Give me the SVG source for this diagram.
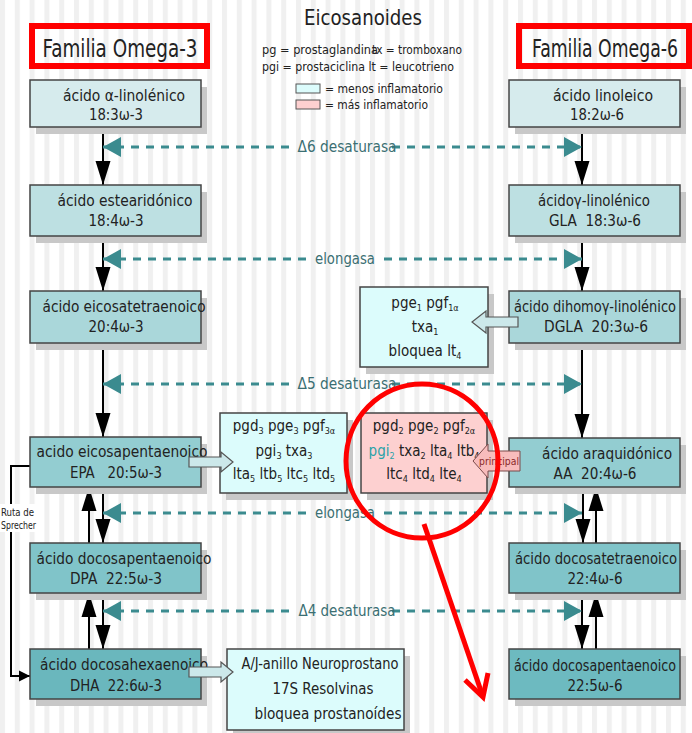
<svg xmlns="http://www.w3.org/2000/svg" width="692" height="733" viewBox="0 0 692 733">
<style>
text{font-family:"DejaVu Sans Condensed","DejaVu Sans","Liberation Sans",sans-serif;font-stretch:condensed;fill:#222}
.n{font-size:16px}
.m{font-size:15px}
.sub{font-size:9px}
.lab{font-size:15px;fill:#3b6f73}
.leg{font-size:12px}
.box{stroke:#444;stroke-width:1.5}
.sh{fill:#c8c8c8}
.cyan{fill:#dcfcfc}
.pink{fill:#fdd0d0}
.blk{stroke:#000;stroke-width:2;fill:none}
.dash{stroke:#3b8b8f;stroke-width:2.8;stroke-dasharray:8 7;fill:none}
.hol{fill:#cce8ea;stroke:#555;stroke-width:1.2}
.red{stroke:#f00;fill:none}
</style>
<defs>
<pattern id="stripes" x="0" y="0" width="14.8" height="20" patternUnits="userSpaceOnUse">
<rect x="0" y="0" width="14.8" height="20" fill="#fff"/>
<rect x="0" y="0" width="5" height="20" fill="#f0f0f0"/>
</pattern>
<marker id="ab" markerUnits="userSpaceOnUse" markerWidth="24" markerHeight="16" refX="24" refY="8" orient="auto">
<path d="M0,0.5 L24,8 L0,15.5 z" fill="#000"/>
</marker>
<marker id="as" markerUnits="userSpaceOnUse" markerWidth="12" markerHeight="12" refX="11" refY="6" orient="auto">
<path d="M0,0.5 L11,6 L0,11.5 z" fill="#000"/>
</marker>
<marker id="at" markerUnits="userSpaceOnUse" markerWidth="18" markerHeight="20" refX="18" refY="10" orient="auto">
<path d="M0,0 L18,10 L0,20 z" fill="#3b8b8f"/>
</marker>
</defs>
<rect width="692" height="733" fill="url(#stripes)"/>

<text x="363" y="25" text-anchor="middle" font-size="22" textLength="118" lengthAdjust="spacingAndGlyphs">Eicosanoides</text>

<g id="familia3">
<rect x="32" y="26" width="175" height="40" fill="#fff" class="red" stroke-width="6"/>
<text x="120" y="57" text-anchor="middle" font-size="24" textLength="155" lengthAdjust="spacingAndGlyphs">Familia Omega-3</text>
</g>
<g id="familia6">
<rect x="519" y="26" width="170" height="40" fill="#fff" class="red" stroke-width="6"/>
<text transform="translate(532,57) scale(1,1.33)" x="0" y="0" font-size="18" textLength="146" lengthAdjust="spacingAndGlyphs">Familia Omega-6</text>
</g>

<g id="legend">
<text class="leg" x="262" y="54" textLength="116" lengthAdjust="spacingAndGlyphs">pg = prostaglandina</text>
<text class="leg" x="372" y="54" textLength="90" lengthAdjust="spacingAndGlyphs">tx = tromboxano</text>
<text class="leg" x="262" y="71" textLength="192" lengthAdjust="spacingAndGlyphs">pgi = prostaciclina lt = leucotrieno</text>
<rect x="296" y="84" width="24" height="9" class="cyan" stroke="#555" stroke-width="1"/>
<rect x="296" y="100" width="24" height="9" class="pink" stroke="#555" stroke-width="1"/>
<text class="leg" x="325" y="93" textLength="118" lengthAdjust="spacingAndGlyphs">= menos inflamatorio</text>
<text class="leg" x="325" y="109" textLength="103" lengthAdjust="spacingAndGlyphs">= más inflamatorio</text>
</g>

<g id="connectors">
<line class="blk" x1="103" y1="127" x2="103" y2="185" marker-end="url(#ab)"/>
<line class="blk" x1="103" y1="236" x2="103" y2="291" marker-end="url(#ab)"/>
<line class="blk" x1="103" y1="343" x2="103" y2="437" marker-end="url(#ab)"/>
<line class="blk" x1="103" y1="487" x2="103" y2="543" marker-end="url(#ab)"/>
<line class="blk" x1="89" y1="543" x2="89" y2="487" marker-end="url(#ab)"/>
<line class="blk" x1="103" y1="593" x2="103" y2="649" marker-end="url(#ab)"/>
<line class="blk" x1="89" y1="649" x2="89" y2="593" marker-end="url(#ab)"/>
<line class="blk" x1="582" y1="127" x2="582" y2="185" marker-end="url(#ab)"/>
<line class="blk" x1="582" y1="236" x2="582" y2="291" marker-end="url(#ab)"/>
<line class="blk" x1="582" y1="343" x2="582" y2="438" marker-end="url(#ab)"/>
<line class="blk" x1="583" y1="487" x2="583" y2="543" marker-end="url(#ab)"/>
<line class="blk" x1="596" y1="543" x2="596" y2="487" marker-end="url(#ab)"/>
<line class="blk" x1="582" y1="593" x2="582" y2="649" marker-end="url(#ab)"/>
<line class="blk" x1="596" y1="649" x2="596" y2="593" marker-end="url(#ab)"/>
<polyline class="blk" points="30,466 11,466 11,676 30,676" marker-end="url(#as)"/>
<rect x="0" y="504" width="38" height="28" fill="#fff"/>
<text x="1" y="516" font-size="11" textLength="33" lengthAdjust="spacingAndGlyphs">Ruta de</text>
<text x="1" y="529" font-size="11" textLength="35" lengthAdjust="spacingAndGlyphs">Sprecher</text>
<line class="dash" x1="289" y1="147" x2="103" y2="147" marker-end="url(#at)"/>
<line class="dash" x1="392" y1="147" x2="582" y2="147" marker-end="url(#at)"/>
<text class="lab" x="347" y="152" text-anchor="middle" textLength="99" lengthAdjust="spacingAndGlyphs">Δ6 desaturasa</text>
<line class="dash" x1="306" y1="259" x2="103" y2="259" marker-end="url(#at)"/>
<line class="dash" x1="384" y1="259" x2="582" y2="259" marker-end="url(#at)"/>
<text class="lab" x="345" y="264" text-anchor="middle" textLength="60" lengthAdjust="spacingAndGlyphs">elongasa</text>
<line class="dash" x1="289" y1="384" x2="103" y2="384" marker-end="url(#at)"/>
<line class="dash" x1="392" y1="384" x2="582" y2="384" marker-end="url(#at)"/>
<text class="lab" x="347" y="389" text-anchor="middle" textLength="99" lengthAdjust="spacingAndGlyphs">Δ5 desaturasa</text>
<line class="dash" x1="306" y1="513" x2="103" y2="513" marker-end="url(#at)"/>
<line class="dash" x1="384" y1="513" x2="582" y2="513" marker-end="url(#at)"/>
<text class="lab" x="345" y="518" text-anchor="middle" textLength="60" lengthAdjust="spacingAndGlyphs">elongasa</text>
<line class="dash" x1="289" y1="611" x2="103" y2="611" marker-end="url(#at)"/>
<line class="dash" x1="392" y1="611" x2="582" y2="611" marker-end="url(#at)"/>
<text class="lab" x="347" y="616" text-anchor="middle" textLength="97" lengthAdjust="spacingAndGlyphs">Δ4 desaturasa</text>
</g>

<g id="ala">
<rect x="36" y="87" width="171" height="47" class="sh"/>
<rect x="30" y="80" width="171" height="47" fill="#d6ebed" class="box"/>
<text class="n" x="124" y="101" text-anchor="middle" textLength="122" lengthAdjust="spacingAndGlyphs">ácido α-linolénico</text>
<text class="n" x="116" y="120" text-anchor="middle" textLength="54" lengthAdjust="spacingAndGlyphs">18:3ω-3</text>
</g>
<g id="sda">
<rect x="36" y="192" width="171" height="51" class="sh"/>
<rect x="30" y="185" width="171" height="51" fill="#bde0e2" class="box"/>
<text class="n" x="125" y="206" text-anchor="middle" textLength="135" lengthAdjust="spacingAndGlyphs">ácido estearidónico</text>
<text class="n" x="116" y="226" text-anchor="middle" textLength="55" lengthAdjust="spacingAndGlyphs">18:4ω-3</text>
</g>
<g id="eta">
<rect x="36" y="298" width="171" height="52" class="sh"/>
<rect x="30" y="291" width="171" height="52" fill="#aad7da" class="box"/>
<text class="n" x="124" y="312" text-anchor="middle" textLength="163" lengthAdjust="spacingAndGlyphs">ácido eicosatetraenoico</text>
<text class="n" x="116" y="332" text-anchor="middle" textLength="55" lengthAdjust="spacingAndGlyphs">20:4ω-3</text>
</g>
<g id="epa">
<rect x="36" y="444" width="171" height="50" class="sh"/>
<rect x="30" y="437" width="171" height="50" fill="#93cdd1" class="box"/>
<text class="n" x="122" y="457" text-anchor="middle" textLength="171" lengthAdjust="spacingAndGlyphs">acido eicosapentaenoico</text>
<text class="n" x="116" y="478" text-anchor="middle" xml:space="preserve" textLength="92" lengthAdjust="spacingAndGlyphs">EPA   20:5ω-3</text>
</g>
<g id="dpa3">
<rect x="36" y="550" width="171" height="50" class="sh"/>
<rect x="30" y="543" width="171" height="50" fill="#80c4c9" class="box"/>
<text class="n" x="124" y="564" text-anchor="middle" textLength="175" lengthAdjust="spacingAndGlyphs">ácido docosapentaenoico</text>
<text class="n" x="116" y="584" text-anchor="middle" xml:space="preserve" textLength="92" lengthAdjust="spacingAndGlyphs">DPA  22:5ω-3</text>
</g>
<g id="dha">
<rect x="36" y="656" width="171" height="50" class="sh"/>
<rect x="30" y="649" width="171" height="50" fill="#6ab7bd" class="box"/>
<text class="n" x="124" y="670" text-anchor="middle" textLength="168" lengthAdjust="spacingAndGlyphs">ácido docosahexaenoico</text>
<text class="n" x="116" y="691" text-anchor="middle" xml:space="preserve" textLength="92" lengthAdjust="spacingAndGlyphs">DHA  22:6ω-3</text>
</g>

<g id="la">
<rect x="515" y="87" width="171" height="47" class="sh"/>
<rect x="509" y="80" width="171" height="47" fill="#d6ebed" class="box"/>
<text class="n" x="603" y="101" text-anchor="middle" textLength="100" lengthAdjust="spacingAndGlyphs">ácido linoleico</text>
<text class="n" x="597" y="120" text-anchor="middle" textLength="54" lengthAdjust="spacingAndGlyphs">18:2ω-6</text>
</g>
<g id="gla">
<rect x="515" y="192" width="171" height="51" class="sh"/>
<rect x="509" y="185" width="171" height="51" fill="#bde0e2" class="box"/>
<text class="n" x="594" y="206" text-anchor="middle" textLength="112" lengthAdjust="spacingAndGlyphs">ácidoγ-linolénico</text>
<text class="n" x="595" y="226" text-anchor="middle" xml:space="preserve" textLength="92" lengthAdjust="spacingAndGlyphs">GLA  18:3ω-6</text>
</g>
<g id="dgla">
<rect x="515" y="298" width="171" height="52" class="sh"/>
<rect x="509" y="291" width="171" height="52" fill="#aad7da" class="box"/>
<text class="n" x="595" y="312" text-anchor="middle" textLength="162" lengthAdjust="spacingAndGlyphs">ácido dihomoγ-linolénico</text>
<text class="n" x="596" y="332" text-anchor="middle" xml:space="preserve" textLength="104" lengthAdjust="spacingAndGlyphs">DGLA  20:3ω-6</text>
</g>
<g id="aa">
<rect x="515" y="445" width="171" height="49" class="sh"/>
<rect x="509" y="438" width="171" height="49" fill="#93cdd1" class="box"/>
<text class="n" x="607" y="459" text-anchor="middle" textLength="130" lengthAdjust="spacingAndGlyphs">ácido araquidónico</text>
<text class="n" x="595" y="479" text-anchor="middle" xml:space="preserve" textLength="83" lengthAdjust="spacingAndGlyphs">AA  20:4ω-6</text>
</g>
<g id="dta">
<rect x="515" y="550" width="171" height="50" class="sh"/>
<rect x="509" y="543" width="171" height="50" fill="#80c4c9" class="box"/>
<text class="n" x="596" y="564" text-anchor="middle" textLength="162" lengthAdjust="spacingAndGlyphs">ácido docosatetraenoico</text>
<text class="n" x="595" y="584" text-anchor="middle" textLength="55" lengthAdjust="spacingAndGlyphs">22:4ω-6</text>
</g>
<g id="dpa6">
<rect x="515" y="656" width="171" height="50" class="sh"/>
<rect x="509" y="649" width="171" height="50" fill="#6dbac0" class="box"/>
<text x="595" y="671" font-size="15" text-anchor="middle" textLength="162" lengthAdjust="spacingAndGlyphs">ácido docosapentaenoico</text>
<text class="n" x="595" y="691" text-anchor="middle" textLength="55" lengthAdjust="spacingAndGlyphs">22:5ω-6</text>
</g>

<g id="dgla-prod">
<rect x="366" y="294" width="128" height="80" class="sh"/>
<rect x="360" y="287" width="128" height="80" class="cyan box"/>
<text class="m" x="425" y="308" text-anchor="middle">pge<tspan class="sub" dy="3">1</tspan><tspan dy="-3"> pgf</tspan><tspan class="sub" dy="3">1α</tspan></text>
<text class="m" x="425" y="332" text-anchor="middle">txa<tspan class="sub" dy="3">1</tspan></text>
<text class="m" x="425" y="356" text-anchor="middle">bloquea lt<tspan class="sub" dy="3">4</tspan></text>
<path d="M518,317 L486,317 L486,311 L472,322 L486,333 L486,327 L518,327 z" class="hol"/>
</g>
<g id="epa-prod">
<rect x="226" y="420" width="127" height="80" class="sh"/>
<rect x="220" y="413" width="127" height="80" class="cyan box"/>
<text class="m" x="284" y="431" text-anchor="middle">pgd<tspan class="sub" dy="3">3</tspan><tspan dy="-3"> pge</tspan><tspan class="sub" dy="3">3</tspan><tspan dy="-3"> pgf</tspan><tspan class="sub" dy="3">3α</tspan></text>
<text class="m" x="284" y="456" text-anchor="middle">pgi<tspan class="sub" dy="3">3</tspan><tspan dy="-3"> txa</tspan><tspan class="sub" dy="3">3</tspan></text>
<text class="m" x="284" y="479" text-anchor="middle">lta<tspan class="sub" dy="3">5</tspan><tspan dy="-3"> ltb</tspan><tspan class="sub" dy="3">5</tspan><tspan dy="-3"> ltc</tspan><tspan class="sub" dy="3">5</tspan><tspan dy="-3"> ltd</tspan><tspan class="sub" dy="3">5</tspan></text>
<path d="M189,457 L221,457 L221,452 L233,462 L221,472 L221,467 L189,467 z" class="hol"/>
</g>
<g id="aa-prod">
<rect x="367" y="420" width="126" height="80" class="sh"/>
<rect x="361" y="413" width="126" height="80" class="pink box"/>
<text class="m" x="424" y="431" text-anchor="middle">pgd<tspan class="sub" dy="3">2</tspan><tspan dy="-3"> pge</tspan><tspan class="sub" dy="3">2</tspan><tspan dy="-3"> pgf</tspan><tspan class="sub" dy="3">2α</tspan></text>
<text class="m" x="424" y="456" text-anchor="middle"><tspan style="fill:#2aa2a8">pgi</tspan><tspan class="sub" dy="3" style="fill:#2aa2a8">2</tspan><tspan dy="-3"> txa</tspan><tspan class="sub" dy="3">2</tspan><tspan dy="-3"> lta</tspan><tspan class="sub" dy="3">4</tspan><tspan dy="-3"> ltb</tspan><tspan class="sub" dy="3">4</tspan></text>
<text class="m" x="424" y="479" text-anchor="middle">ltc<tspan class="sub" dy="3">4</tspan><tspan dy="-3"> ltd</tspan><tspan class="sub" dy="3">4</tspan><tspan dy="-3"> lte</tspan><tspan class="sub" dy="3">4</tspan></text>
<path d="M520,451 L488,451 L488,444 L473,461 L488,478 L488,471 L520,471 z" fill="#f8bcbc" stroke="#7a4a4a" stroke-width="1"/>
<text x="499" y="465" text-anchor="middle" font-size="10" textLength="40" lengthAdjust="spacingAndGlyphs" style="fill:#8a2a2a">principal</text>
</g>
<g id="dha-prod">
<rect x="233" y="656" width="177" height="81" class="sh"/>
<rect x="227" y="649" width="177" height="81" class="cyan box"/>
<text class="n" x="320" y="669" text-anchor="middle" textLength="157" lengthAdjust="spacingAndGlyphs">A/J-anillo Neuroprostano</text>
<text class="n" x="323" y="694" text-anchor="middle" textLength="101" lengthAdjust="spacingAndGlyphs">17S Resolvinas</text>
<text class="n" x="328" y="719" text-anchor="middle" textLength="147" lengthAdjust="spacingAndGlyphs">bloquea prostanoídes</text>
<path d="M189,667 L221,667 L221,662 L233,672 L221,682 L221,677 L189,677 z" class="hol"/>
</g>

<g id="highlight">
<ellipse cx="422" cy="461" rx="76" ry="77" class="red" stroke-width="5"/>
<line x1="424" y1="524" x2="482" y2="694" class="red" stroke-width="5"/>
<polyline points="465,680 483,697 488,673" class="red" stroke-width="5" stroke-linejoin="miter"/>
</g>
</svg>
